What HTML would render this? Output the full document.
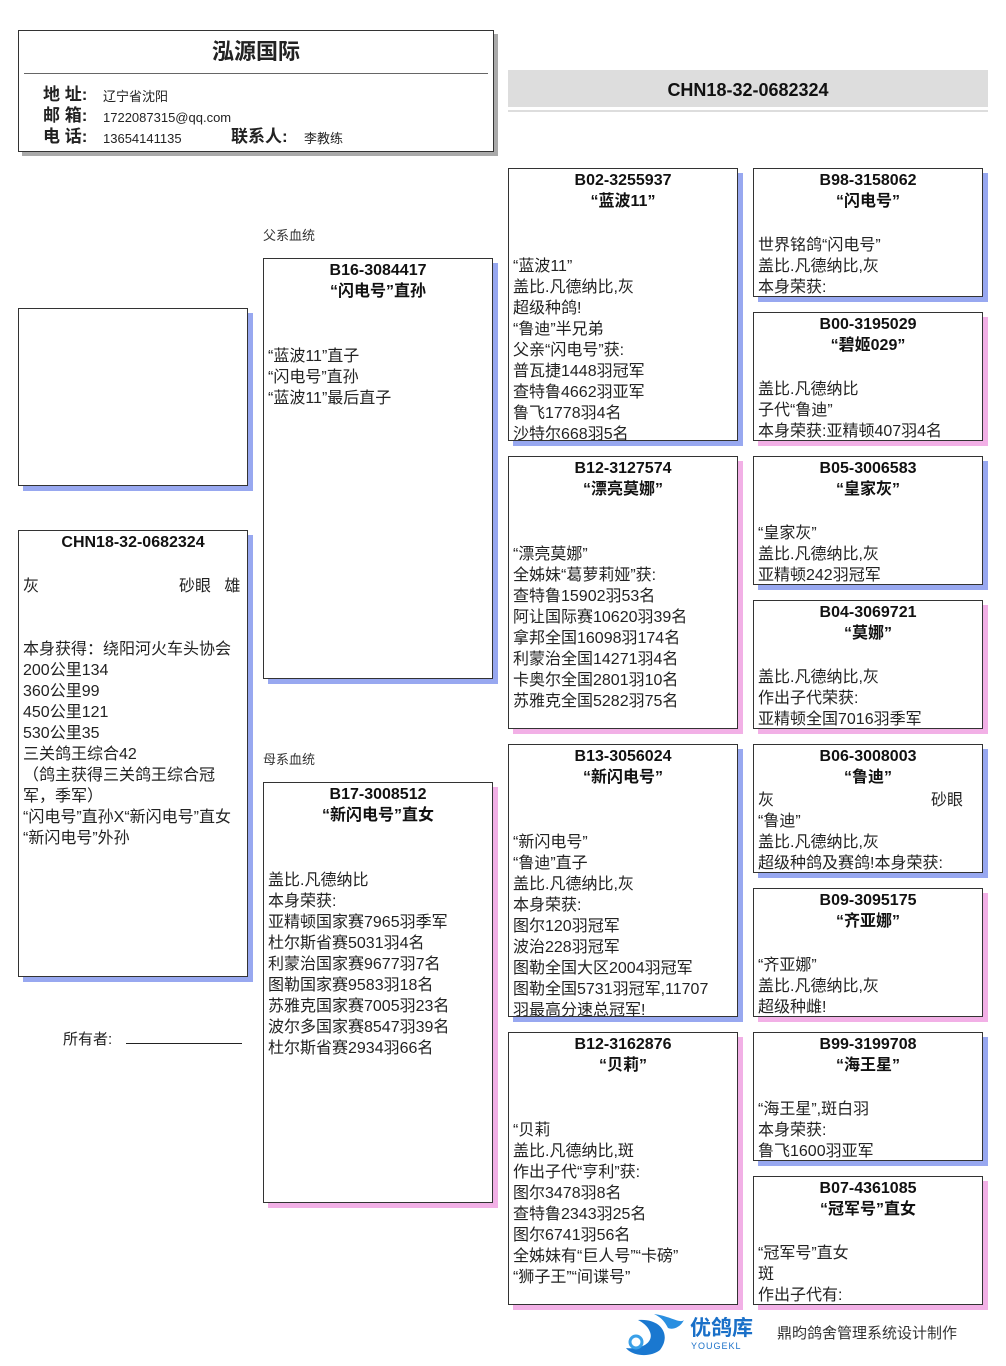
<!DOCTYPE html>
<html><head><meta charset="utf-8"><style>
*{margin:0;padding:0;box-sizing:border-box}
body{width:1006px;height:1366px;background:#fff;position:relative;font-family:"Liberation Sans","Noto Sans CJK SC",sans-serif;color:#222;overflow:hidden}
.b{position:absolute;border:1px solid #333;background:#fff;font-size:16px;line-height:21px;overflow:hidden;padding:1px 4px 0 4px}
.b .c{margin-top:2px}
.bl{box-shadow:5px 5px 0 #98a8f0}
.pk{box-shadow:5px 5px 0 #f2b0e6}
.t{font-weight:bold;font-size:16px;text-align:center;color:#111}
.a{position:absolute;font-size:13px;color:#333}
</style></head><body>
<div class="b" style="left:18px;top:30px;width:476px;height:122px;box-shadow:4px 4px 0 #aaa;padding:0">
 <div style="text-align:center;font-weight:bold;font-size:22px;line-height:26px;margin-top:8px;color:#222">泓源国际</div>
 <div style="border-top:1px solid #666;margin:8px 5px 0 5px"></div>
 <div style="position:absolute;left:24px;top:53px;font-size:17px;line-height:21px;font-weight:bold">地 址:<br>邮 箱:<br>电 话:</div>
 <div style="position:absolute;left:84px;top:55px;font-size:13px;line-height:21px">辽宁省沈阳<br>1722087315@qq.com<br>13654141135</div>
 <div style="position:absolute;left:212px;top:95px;font-size:17px;font-weight:bold;line-height:21px">联系人:</div>
 <div style="position:absolute;left:285px;top:97px;font-size:13px;line-height:21px">李教练</div>
</div>
<div style="position:absolute;left:508px;top:70px;width:480px;height:40px;background:#ddd;border-bottom:3px solid #fff;box-shadow:0 2px 0 #ddd;text-align:center;font-weight:bold;font-size:18px;line-height:40px;color:#111">CHN18-32-0682324</div>
<div class="a" style="left:263px;top:225px">父系血统</div>
<div class="a" style="left:263px;top:749px">母系血统</div>
<div class="b bl" style="left:18px;top:308px;width:230px;height:178px"></div>
<div class="b bl" style="left:18px;top:530px;width:230px;height:447px">
<div class="t">CHN18-32-0682324</div><div class="c">&nbsp;</div>
<div>灰<span style="position:absolute;left:160px">砂眼&nbsp;&nbsp;&nbsp;雄</span></div>
<div>&nbsp;</div><div>&nbsp;</div>
<div>本身获得：绕阳河火车头协会<br>200公里134<br>360公里99<br>450公里121<br>530公里35<br>三关鸽王综合42<br>（鸽主获得三关鸽王综合冠<br>军，季军）<br>“闪电号”直孙X“新闪电号”直女<br>“新闪电号”外孙</div>
</div>
<div style="position:absolute;left:63px;top:1028px;font-size:15px">所有者: <span style="display:inline-block;width:116px;border-bottom:1px solid #222;margin-left:10px"></span></div>

<div class="b bl" style="left:263px;top:258px;width:230px;height:421px"><div class="t">B16-3084417<br>“闪电号”直孙</div><div class="c"><br><br>“蓝波11”直子<br>“闪电号”直孙<br>“蓝波11”最后直子</div></div>
<div class="b pk" style="left:263px;top:782px;width:230px;height:421px"><div class="t">B17-3008512<br>“新闪电号”直女</div><div class="c"><br><br>盖比.凡德纳比<br>本身荣获:<br>亚精顿国家赛7965羽季军<br>杜尔斯省赛5031羽4名<br>利蒙治国家赛9677羽7名<br>图勒国家赛9583羽18名<br>苏雅克国家赛7005羽23名<br>波尔多国家赛8547羽39名<br>杜尔斯省赛2934羽66名</div></div>

<div class="b bl" style="left:508px;top:168px;width:230px;height:273px"><div class="t">B02-3255937<br>“蓝波11”</div><div class="c"><br><br>“蓝波11”<br>盖比.凡德纳比,灰<br>超级种鸽!<br>“鲁迪”半兄弟<br>父亲“闪电号”获:<br>普瓦捷1448羽冠军<br>查特鲁4662羽亚军<br>鲁飞1778羽4名<br>沙特尔668羽5名</div></div>
<div class="b pk" style="left:508px;top:456px;width:230px;height:273px"><div class="t">B12-3127574<br>“漂亮莫娜”</div><div class="c"><br><br>“漂亮莫娜”<br>全姊妹“葛萝莉娅”获:<br>查特鲁15902羽53名<br>阿让国际赛10620羽39名<br>拿邦全国16098羽174名<br>利蒙治全国14271羽4名<br>卡奥尔全国2801羽10名<br>苏雅克全国5282羽75名</div></div>
<div class="b bl" style="left:508px;top:744px;width:230px;height:273px"><div class="t">B13-3056024<br>“新闪电号”</div><div class="c"><br><br>“新闪电号”<br>“鲁迪”直子<br>盖比.凡德纳比,灰<br>本身荣获:<br>图尔120羽冠军<br>波治228羽冠军<br>图勒全国大区2004羽冠军<br>图勒全国5731羽冠军,11707<br>羽最高分速总冠军!</div></div>
<div class="b pk" style="left:508px;top:1032px;width:230px;height:273px"><div class="t">B12-3162876<br>“贝莉”</div><div class="c"><br><br>“贝莉<br>盖比.凡德纳比,斑<br>作出子代“亨利”获:<br>图尔3478羽8名<br>查特鲁2343羽25名<br>图尔6741羽56名<br>全姊妹有“巨人号”“卡磅”<br>“狮子王”“间谍号”</div></div>

<div class="b bl" style="left:753px;top:168px;width:230px;height:129px"><div class="t">B98-3158062<br>“闪电号”</div><div class="c"><br>世界铭鸽“闪电号”<br>盖比.凡德纳比,灰<br>本身荣获:</div></div>
<div class="b pk" style="left:753px;top:312px;width:230px;height:129px"><div class="t">B00-3195029<br>“碧姬029”</div><div class="c"><br>盖比.凡德纳比<br>子代“鲁迪”<br>本身荣获:亚精顿407羽4名</div></div>
<div class="b bl" style="left:753px;top:456px;width:230px;height:129px"><div class="t">B05-3006583<br>“皇家灰”</div><div class="c"><br>“皇家灰”<br>盖比.凡德纳比,灰<br>亚精顿242羽冠军</div></div>
<div class="b pk" style="left:753px;top:600px;width:230px;height:129px"><div class="t">B04-3069721<br>“莫娜”</div><div class="c"><br>盖比.凡德纳比,灰<br>作出子代荣获:<br>亚精顿全国7016羽季军</div></div>
<div class="b bl" style="left:753px;top:744px;width:230px;height:129px"><div class="t">B06-3008003<br>“鲁迪”</div><div class="c">灰<span style="position:absolute;left:177px">砂眼</span></div>“鲁迪”<br>盖比.凡德纳比,灰<br>超级种鸽及赛鸽!本身荣获:</div>
<div class="b pk" style="left:753px;top:888px;width:230px;height:129px"><div class="t">B09-3095175<br>“齐亚娜”</div><div class="c"><br>“齐亚娜”<br>盖比.凡德纳比,灰<br>超级种雌!</div></div>
<div class="b bl" style="left:753px;top:1032px;width:230px;height:129px"><div class="t">B99-3199708<br>“海王星”</div><div class="c"><br>“海王星”,斑白羽<br>本身荣获:<br>鲁飞1600羽亚军</div></div>
<div class="b pk" style="left:753px;top:1176px;width:230px;height:129px"><div class="t">B07-4361085<br>“冠军号”直女</div><div class="c"><br>“冠军号”直女<br>斑<br>作出子代有:</div></div>

<svg style="position:absolute;left:620px;top:1312px" width="65" height="45" viewBox="0 0 65 45">
<path d="M18 8 C40 6 52 22 40 38 C30 46 12 44 6 36 C22 38 34 30 30 20 C28 14 22 10 18 8Z" fill="#1a78d0"/>
<path d="M34 2 C50 4 60 12 64 8 C60 16 52 18 48 16 C44 8 40 5 34 2Z" fill="#2a8fe0"/>
<circle cx="16" cy="30" r="6" fill="none" stroke="#3aa0e8" stroke-width="3"/>
</svg>
<div style="position:absolute;left:690px;top:1317px;font-size:21px;font-weight:bold;color:#1a70c8;line-height:24px">优鸽库</div>
<div style="position:absolute;left:691px;top:1341px;font-size:9px;color:#1a70c8;letter-spacing:1px">YOUGEKL</div>
<div style="position:absolute;left:777px;top:1322px;font-size:15px;color:#333">鼎昀鸽舍管理系统设计制作</div>
</body></html>
